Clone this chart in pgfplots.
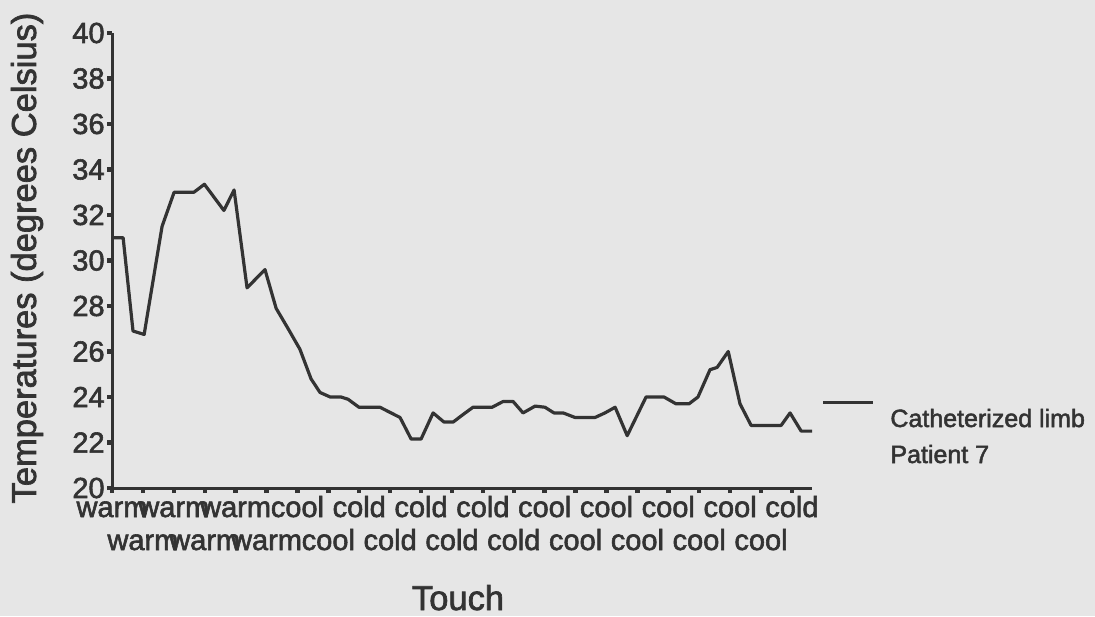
\documentclass[border=0pt]{standalone}
\usepackage{fontspec}
\setmainfont{Liberation Sans}[FakeBold=2]
\usepackage{pgfplots}
\pgfplotsset{compat=1.18}
\definecolor{bg}{HTML}{E6E6E6}
\definecolor{ink}{HTML}{333333}
\begin{document}
\begin{tikzpicture}
\useasboundingbox (0,0) rectangle (547.5pt,308pt);
\fill[bg] (0,0) rectangle (547.5pt,308pt);
\begin{axis}[
  at={(56pt,64pt)}, anchor=south west,
  width=350pt, height=227.5pt, scale only axis,
  xmin=0, xmax=22.65, ymin=20, ymax=40,
  axis x line=bottom, axis y line=left,
  axis line style={ink, line width=1.5pt, -},
  xtick={0,2,...,22},
  xticklabels={warm,warm,warm,cool,cold,cold,cold,cool,cool,cool,cool,cold},
  extra x ticks={1,3,...,21},
  extra x tick labels={warm,warm,warm,cool,cold,cold,cold,cool,cool,cool,cool},
  extra x tick style={xticklabel style={yshift=-16.5pt}},
  ytick={20,22,...,40},
  tick align=outside,
  major tick length=2.5pt,
  tick style={ink, line width=2.2pt},
  /pgf/number format/assume math mode=true,
  tick label style={font=\fontsize{14.5}{16}\selectfont, text=ink},
  xticklabel style={anchor=base, yshift=-12pt, inner sep=0pt},
  yticklabel style={inner sep=1pt},
  clip=false,
]
\addplot[ink, line width=1.6pt, line join=round, mark=none] coordinates {
(0.05,31.0) (0.36,31.0) (0.68,26.9) (1.04,26.75) (1.62,31.5) (2.01,33.0)
(2.65,33.0) (2.99,33.35) (3.62,32.2) (3.95,33.1) (4.37,28.8) (4.95,29.6)
(5.31,27.9) (5.70,27.0) (6.08,26.1) (6.44,24.8) (6.73,24.2) (7.06,24.0)
(7.41,24.0) (7.64,23.9) (7.99,23.55) (8.67,23.55) (9.03,23.3) (9.32,23.1)
(9.68,22.15) (10.0,22.15) (10.39,23.3) (10.74,22.9) (11.04,22.9) (11.33,23.2)
(11.68,23.55) (12.30,23.55) (12.65,23.8) (12.98,23.8) (13.30,23.3) (13.69,23.6)
(14.01,23.55) (14.30,23.3) (14.60,23.3) (14.98,23.1) (15.63,23.1) (15.95,23.3)
(16.28,23.55) (16.67,22.3) (17.28,24.0) (17.86,24.0) (18.25,23.7) (18.67,23.7)
(18.96,24.0) (19.35,25.2) (19.58,25.3) (19.94,26.0) (20.32,23.7) (20.68,22.75)
(21.65,22.75) (21.94,23.3) (22.30,22.5) (22.65,22.5)
};
\end{axis}
\node[rotate=90, font=\fontsize{17.25}{20}\selectfont, text=ink] at (13.5pt,179pt) {Temperatures (degrees Celsius)};
\node[anchor=base, inner sep=0pt, font=\fontsize{17.25}{20}\selectfont, text=ink] at (229pt,3pt) {Touch};
\draw[ink, line width=1.5pt] (411.5pt,107pt) -- (436.5pt,107pt);
\node[anchor=base west, inner sep=0pt, font=\fontsize{12.5}{15}\selectfont, text=ink] at (445pt,94.5pt) {Catheterized limb};
\node[anchor=base west, inner sep=0pt, font=\fontsize{12.5}{15}\selectfont, text=ink] at (445pt,76.5pt) {Patient 7};
\end{tikzpicture}
\end{document}
